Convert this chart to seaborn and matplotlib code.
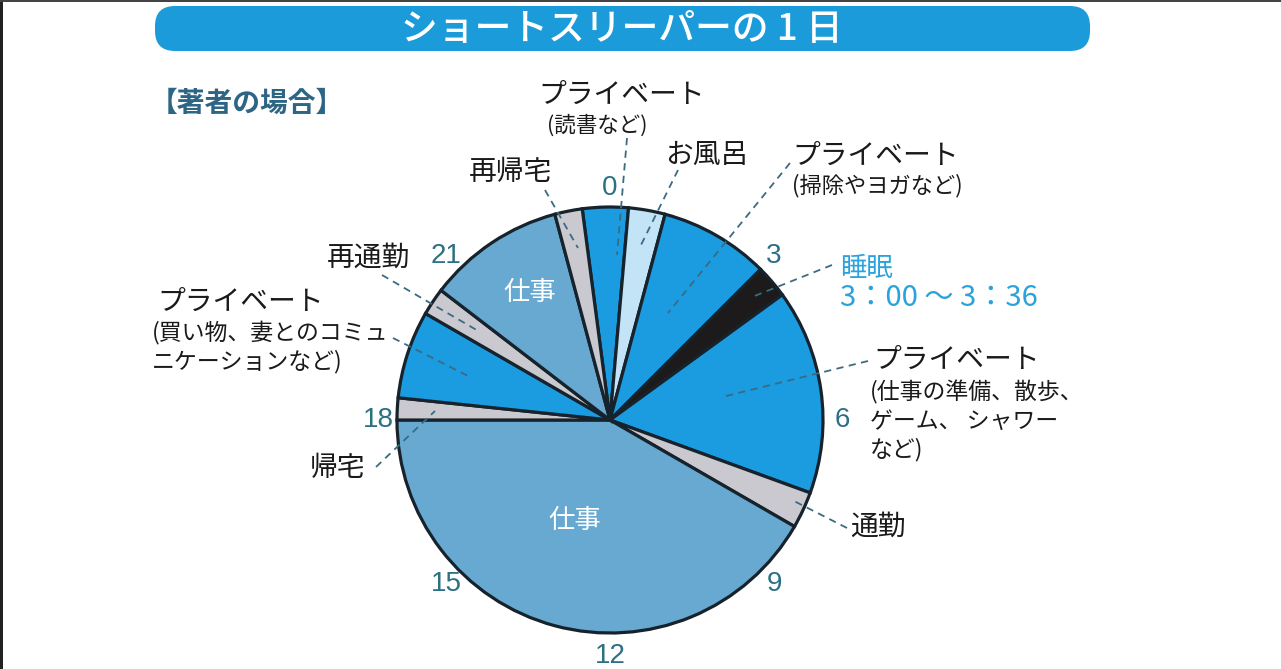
import numpy as np
import seaborn as sns
import matplotlib.pyplot as plt
from matplotlib.patches import FancyBboxPatch, Rectangle

# one day of the author, starting at 23:30, in minutes
activities = ['プライベート（読書など）', 'お風呂', 'プライベート（掃除やヨガなど）', '睡眠',
              'プライベート（仕事の準備、散歩、ゲーム、シャワーなど）', '通勤', '仕事', '帰宅',
              'プライベート（買い物、妻とのコミュニケーションなど）', '再通勤', '仕事', '再帰宅']
minutes = [50, 40, 120, 36, 224, 40, 600, 24, 96, 30, 150, 30]
kinds = ['private', 'bath', 'private', 'sleep', 'private', 'commute', 'work', 'commute',
         'private', 'commute', 'work', 'commute']
day_start = 23.5  # hour where the first slice begins
hour_ticks = [0, 3, 6, 9, 12, 15, 18, 21]

title = 'ショートスリーパーの 1 日'
subtitle = '【著者の場合】'

sns.set_theme(style='white')
plt.rcParams['font.family'] = ['Noto Sans CJK JP', 'DejaVu Sans']

palette = {'private': '#1b9be0', 'bath': '#c3e3f6', 'sleep': '#1c1a1b',
           'commute': '#c9c9cf', 'work': '#67a9d0'}
colors = [palette[k] for k in kinds]

W, H = 1281, 669
fig = plt.figure(figsize=(W / 100, H / 100), dpi=100)
ax = fig.add_axes([0, 0, 1, 1])


def Y(p):
    return H - p


cx, cy, r = 610, 420, 213
start = 90 - (day_start - 24) * 15
ax.pie(minutes, colors=colors, startangle=start, counterclock=False,
       center=(cx, Y(cy)), radius=r, frame=True,
       wedgeprops=dict(edgecolor='#17232c', linewidth=2.3))
ax.set_xlim(0, W)
ax.set_ylim(0, H)
ax.set_aspect('equal')
ax.axis('off')

# hour numbers around the dial
num_color = '#2b7083'
for h in hour_ticks:
    a = np.deg2rad(90 - h * 15)
    rr = 232 if h != 12 else 236
    ax.text(cx + rr * np.cos(a), Y(cy) + rr * np.sin(a), str(h), fontsize=20,
            color=num_color, ha='center', va='center', family='Liberation Sans')

# title bar
ax.add_patch(FancyBboxPatch((155, Y(51)), 935, 45, boxstyle='round,pad=0,rounding_size=20',
                            facecolor='#1b9bd9', edgecolor='none'))
ax.text(622, Y(29), title, fontsize=26.5, color='white', ha='center', va='center',
        weight='medium')
ax.text(150, Y(104), subtitle, fontsize=20, color='#2d6584', ha='left', va='center',
        weight='bold')

# leader lines
lead = dict(color='#3b6b80', linewidth=1.3, linestyle=(0, (4, 3)))
leaders = [((627, 138), (617, 255)), ((678, 170), (641, 245)), ((790, 163), (668, 313)),
           ((832, 265), (752, 297)), ((868, 361), (722, 397)), ((847, 528), (792, 500)),
           ((376, 467), (435, 411)), ((393, 338), (470, 377)), ((382, 275), (480, 332)),
           ((545, 190), (578, 248))]
for (x0, y0), (x1, y1) in leaders:
    ax.plot([x0, x1], [Y(y0), Y(y1)], **lead)

big, small = 20, 16.5
txt = dict(color='#1a1a1a')
ax.text(622, Y(95), 'プライベート', fontsize=big, ha='center', va='center', **txt)
ax.text(597, Y(126), '(読書など)', fontsize=15.5, ha='center', va='center', **txt)
ax.text(510, Y(172), '再帰宅', fontsize=big, ha='center', va='center', **txt)
ax.text(707, Y(155), 'お風呂', fontsize=big, ha='center', va='center', **txt)
ax.text(792, Y(156), 'プライベート', fontsize=big, ha='left', va='center', **txt)
ax.text(792, Y(186), '(掃除やヨガなど)', fontsize=16, ha='left', va='center', **txt)
ax.text(840, Y(268), '睡眠', fontsize=19, ha='left', va='center', color='#2aa3dc')
ax.text(840, Y(298), '3：00 ～ 3：36', fontsize=21, ha='left', va='center', color='#2aa3dc')
ax.text(873, Y(360), 'プライベート', fontsize=big, ha='left', va='center', **txt)
ax.text(870, Y(380), '(仕事の準備、散歩、\nゲーム、 シャワー\nなど)', fontsize=small,
        ha='left', va='top', linespacing=1.3, **txt)
ax.text(850, Y(527), '通勤', fontsize=big, ha='left', va='center', **txt)
ax.text(338, Y(468), '帰宅', fontsize=big, ha='center', va='center', **txt)
ax.text(157, Y(302), 'プライベート', fontsize=big, ha='left', va='center', **txt)
ax.text(152, Y(320), '(買い物、妻とのコミュ\nニケーションなど)', fontsize=small,
        ha='left', va='top', linespacing=1.3, **txt)
ax.text(368, Y(258), '再通勤', fontsize=big, ha='center', va='center', **txt)

ax.text(530, Y(292), '仕事', fontsize=19, color='white', ha='center', va='center')
ax.text(575, Y(520), '仕事', fontsize=19, color='white', ha='center', va='center')

# dark frame edges of the screenshot
ax.add_patch(Rectangle((0, 0), 3, H, facecolor='#222222', edgecolor='none'))
ax.add_patch(Rectangle((0, H - 2), W, 2, facecolor='#444444', edgecolor='none'))

fig.savefig('out.png', dpi=100, facecolor='white')
